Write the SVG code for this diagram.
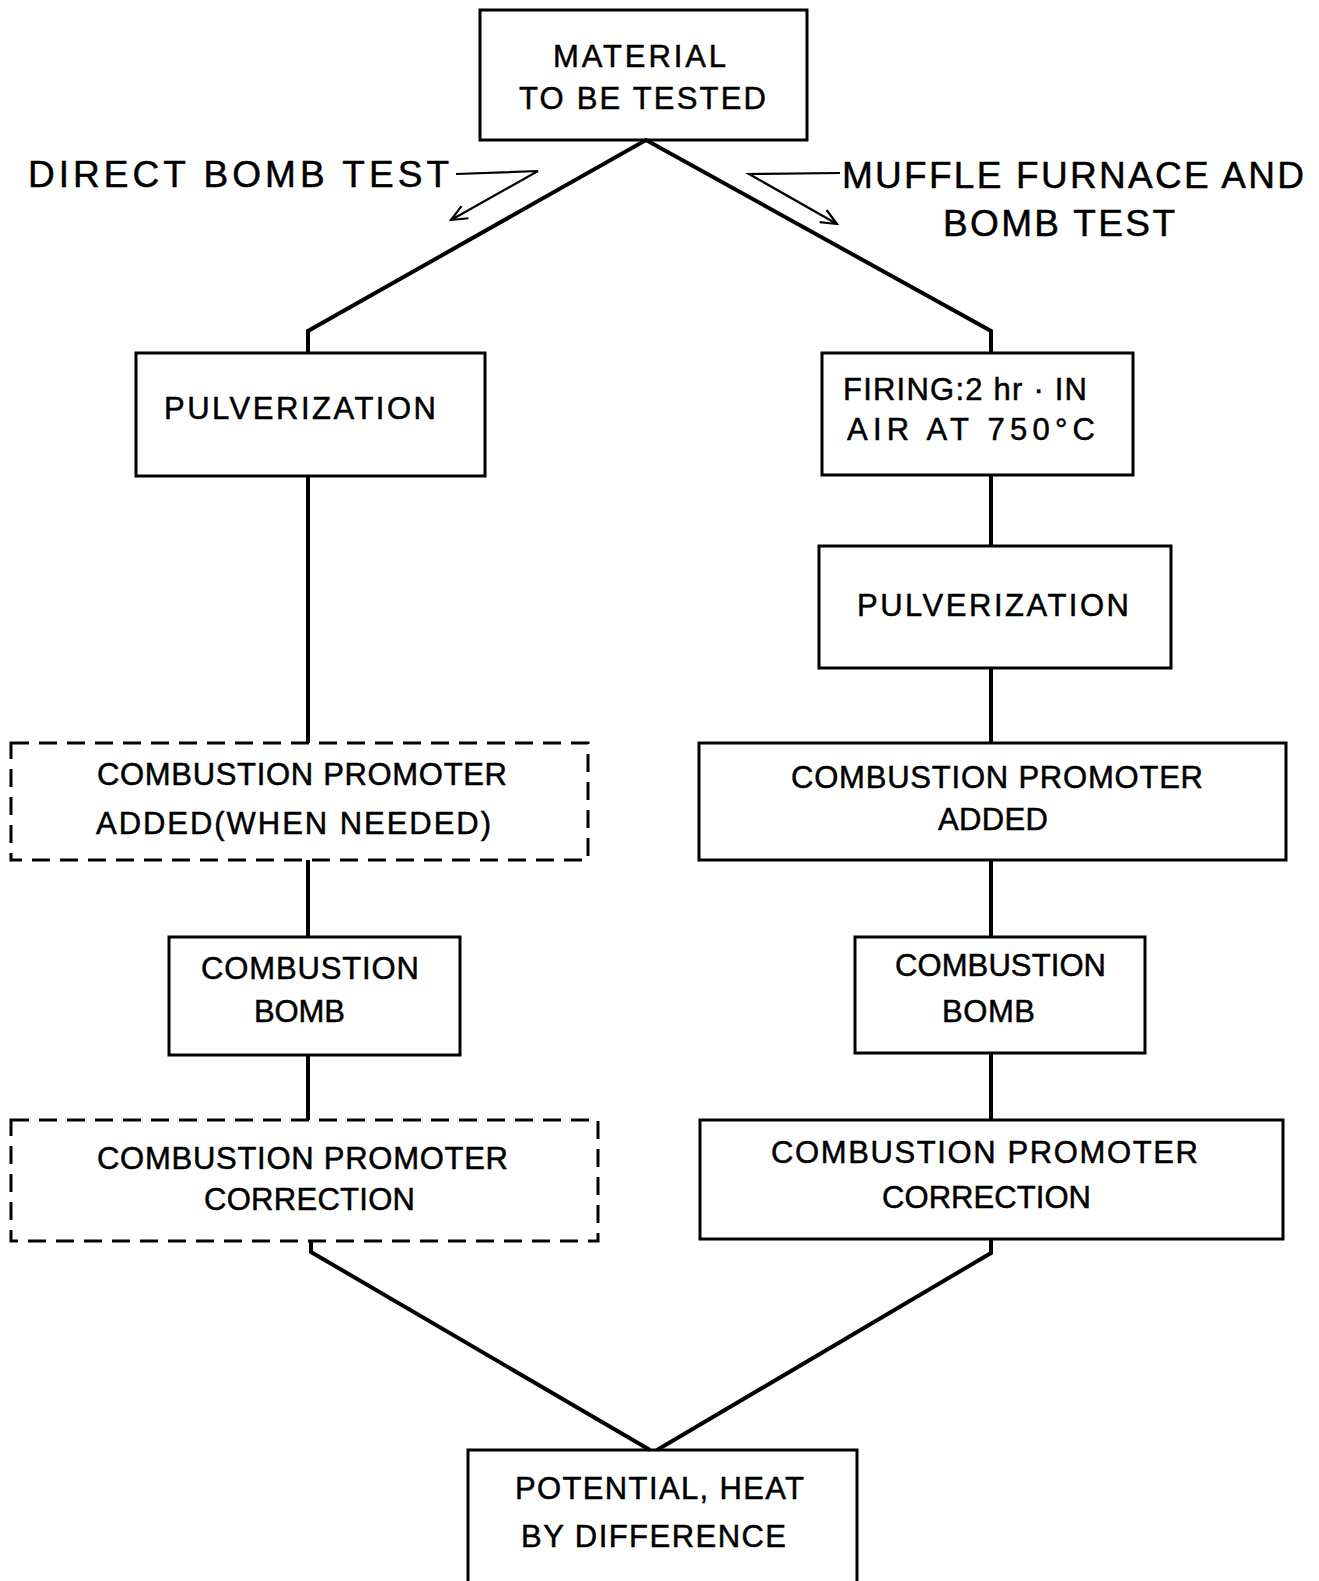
<svg xmlns="http://www.w3.org/2000/svg" width="1319" height="1581" viewBox="0 0 1319 1581">
<style>
.box{fill:none;stroke:#000;stroke-width:3}
.dash{fill:none;stroke:#000;stroke-width:3;stroke-dasharray:18 10}
.conn{fill:none;stroke:#000;stroke-width:4;stroke-linejoin:miter}
.thin{fill:none;stroke:#000;stroke-width:2.2}
text{font-family:"Liberation Sans",Arial,sans-serif;font-size:31px;fill:#000;stroke:#000;stroke-width:0.5}
.lbl{font-size:37px}
</style>
<defs>
<marker id="ah" viewBox="0 0 20 20" refX="18" refY="10" markerWidth="20" markerHeight="20" markerUnits="userSpaceOnUse" orient="auto">
<path d="M2,3 L18,10 L2,17" fill="none" stroke="#000" stroke-width="2.2"/>
</marker>
</defs>
<rect width="1319" height="1581" fill="#fff"/>
<g id="connectors">
<polyline class="conn" points="308,353 308,331 646,140 991,331 991,353"/>
<line class="conn" x1="308" y1="476" x2="308" y2="743"/>
<line class="conn" x1="308" y1="860" x2="308" y2="937"/>
<line class="conn" x1="308" y1="1055" x2="308" y2="1120"/>
<polyline class="conn" points="311,1241 311,1252 650,1450"/>
<line class="conn" x1="991" y1="475" x2="991" y2="546"/>
<line class="conn" x1="991" y1="668" x2="991" y2="743"/>
<line class="conn" x1="991" y1="860" x2="991" y2="937"/>
<line class="conn" x1="991" y1="1053" x2="991" y2="1120"/>
<polyline class="conn" points="991,1239 991,1253 657,1450"/>
<polyline class="thin" points="456,174 538,171 451,220" marker-end="url(#ah)"/>
<polyline class="thin" points="840,173 749,174 837,224" marker-end="url(#ah)"/>
</g>
<g id="material">
<rect class="box" x="480" y="10" width="327" height="130"/>
<text x="553" y="67" textLength="173" lengthAdjust="spacing">MATERIAL</text>
<text x="519" y="109" textLength="247" lengthAdjust="spacing">TO BE TESTED</text>
</g>
<g id="label-direct">
<text class="lbl" x="28" y="187" textLength="421" lengthAdjust="spacing">DIRECT BOMB TEST</text>
</g>
<g id="label-muffle">
<text class="lbl" x="842" y="188" textLength="462" lengthAdjust="spacing">MUFFLE FURNACE AND</text>
<text class="lbl" x="943" y="236" textLength="232" lengthAdjust="spacing">BOMB TEST</text>
</g>
<g id="pulv-left">
<rect class="box" x="136" y="353" width="349" height="123"/>
<text x="164" y="419" textLength="272" lengthAdjust="spacing">PULVERIZATION</text>
</g>
<g id="firing">
<rect class="box" x="822" y="353" width="311" height="122"/>
<text x="843" y="400" textLength="244" lengthAdjust="spacing">FIRING:2 hr · IN</text>
<text x="847" y="440" textLength="248" lengthAdjust="spacing">AIR  AT 750°C</text>
</g>
<g id="pulv-right">
<rect class="box" x="819" y="546" width="352" height="122"/>
<text x="857" y="616" textLength="272" lengthAdjust="spacing">PULVERIZATION</text>
</g>
<g id="promoter-left">
<rect class="dash" x="11" y="743" width="577" height="117"/>
<text x="97" y="785" textLength="410" lengthAdjust="spacing">COMBUSTION PROMOTER</text>
<text x="96" y="834" textLength="395" lengthAdjust="spacing">ADDED(WHEN NEEDED)</text>
</g>
<g id="promoter-right">
<rect class="box" x="699" y="743" width="587" height="117"/>
<text x="791" y="788" textLength="412" lengthAdjust="spacing">COMBUSTION PROMOTER</text>
<text x="938" y="830" textLength="110" lengthAdjust="spacing">ADDED</text>
</g>
<g id="bomb-left">
<rect class="box" x="169" y="937" width="291" height="118"/>
<text x="201" y="979" textLength="218" lengthAdjust="spacing">COMBUSTION</text>
<text x="254" y="1022" textLength="91" lengthAdjust="spacing">BOMB</text>
</g>
<g id="bomb-right">
<rect class="box" x="855" y="937" width="290" height="116"/>
<text x="895" y="976" textLength="211" lengthAdjust="spacing">COMBUSTION</text>
<text x="942" y="1022" textLength="93" lengthAdjust="spacing">BOMB</text>
</g>
<g id="correction-left">
<rect class="dash" x="11" y="1120" width="587" height="121"/>
<text x="97" y="1169" textLength="411" lengthAdjust="spacing">COMBUSTION PROMOTER</text>
<text x="204" y="1210" textLength="211" lengthAdjust="spacing">CORRECTION</text>
</g>
<g id="correction-right">
<rect class="box" x="700" y="1120" width="583" height="119"/>
<text x="771" y="1163" textLength="427" lengthAdjust="spacing">COMBUSTION PROMOTER</text>
<text x="882" y="1208" textLength="209" lengthAdjust="spacing">CORRECTION</text>
</g>
<g id="potential">
<rect class="box" x="468" y="1450" width="389" height="140"/>
<text x="515" y="1499" textLength="289" lengthAdjust="spacing">POTENTIAL, HEAT</text>
<text x="521" y="1547" textLength="265" lengthAdjust="spacing">BY DIFFERENCE</text>
</g>
</svg>
